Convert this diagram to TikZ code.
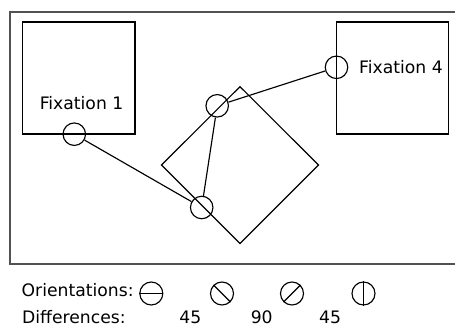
\documentclass[tikz,border=0pt]{standalone}
\usepackage{fontspec}
\setmainfont{DejaVu Sans}
\begin{document}
\begin{tikzpicture}[x=1pt,y=-1pt,
  frame/.style={draw=black!68,line width=1.8pt},
  region/.style={draw=black,line width=1.15pt},
  fix/.style={circle,draw=black,line width=1.15pt,minimum size=22.5pt,inner sep=0pt},
  ori/.style={circle,draw=black,line width=1.15pt,minimum size=23pt,inner sep=0pt},
  link/.style={draw=black,line width=1.15pt},
  lbl/.style={inner sep=0pt,anchor=base west,font=\fontsize{17.2}{20}\selectfont},
  num/.style={inner sep=0pt,anchor=base,font=\fontsize{17.2}{20}\selectfont}]
\useasboundingbox (0,0) rectangle (455,326);
\fill[white] (0,0) rectangle (455,326);
% outer frame (runs past the right edge)
\draw[frame] (10,11.7) rectangle (470,264.3);
% areas of interest
\draw[region] (22.7,22) rectangle (135,134);
\draw[region] (336.7,22) rectangle (448.3,134);
\draw[region] (240,86.7) -- (318.5,165) -- (240,243.5) -- (161.5,165) -- cycle;
\node[lbl] (f1lbl) at (39.6,109.3) {Fixation 1};
\node[lbl] (f4lbl) at (359,73.3) {Fixation 4};
% fixations
\node[fix] (f1) at (74.3,134.2) {};
\node[fix] (f2) at (201.7,207.5) {};
\node[fix] (f3) at (217.2,105.8) {};
\node[fix] (f4) at (336.5,67.3) {};
\draw[link] (f1) -- (f2);
\draw[link] (f2) -- (f3);
\draw[link] (f3) -- (f4);
% legend
\node[lbl] (orilbl) at (21.5,296.7) {Orientations:};
\node[lbl] (diflbl) at (22,323.3) {Differences:};
\node[ori] (o1) at (151.3,293.5) {};
\node[ori] (o2) at (222,293.5) {};
\node[ori] (o3) at (292,293.5) {};
\node[ori] (o4) at (363.5,293.5) {};
\draw[link] (o1.west) -- (o1.east);
\draw[link] (o2.north west) -- (o2.south east);
\draw[link] (o3.south west) -- (o3.north east);
\draw[link] (o4.north) -- (o4.south);
\node[num] (d1) at (190.3,323.3) {45};
\node[num] (d2) at (261.7,323.3) {90};
\node[num] (d3) at (330,323.3) {45};
\end{tikzpicture}
\end{document}
